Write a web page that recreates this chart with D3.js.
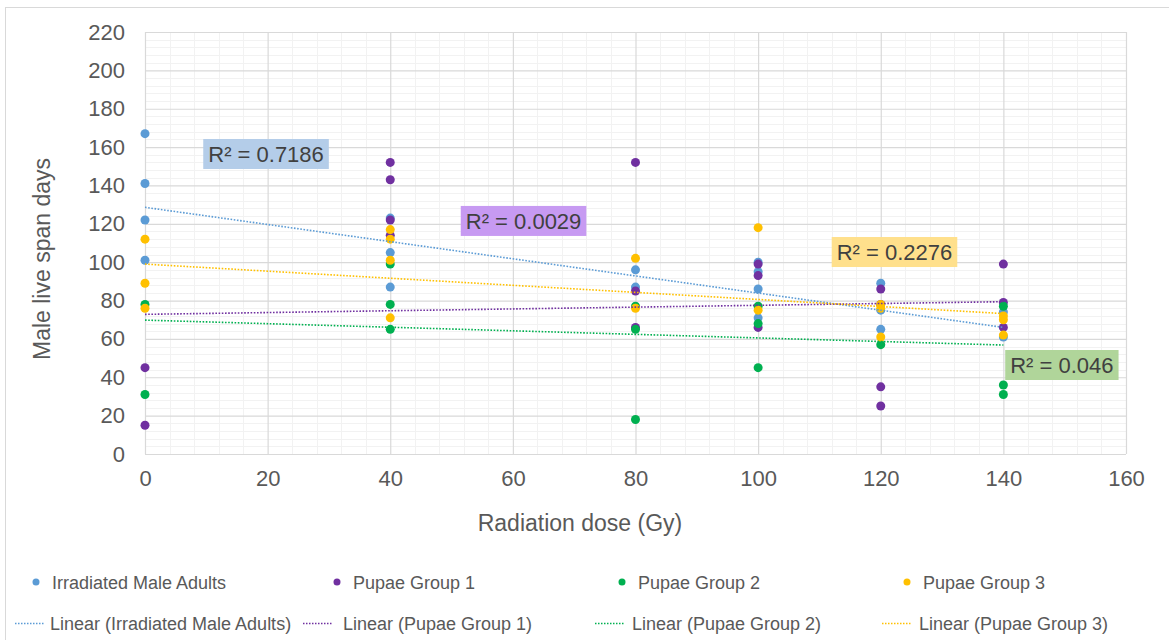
<!DOCTYPE html>
<html>
<head>
<meta charset="utf-8">
<script src="https://cdn.jsdelivr.net/npm/d3@7"></script>
<style>
  html, body { margin: 0; padding: 0; background: #fff; }
  svg { display: block; font-family: "Liberation Sans", Arial, sans-serif; }
</style>
</head>
<body>
<svg id="chart" width="1169" height="640"></svg>
<script>
// Radiation dose (Gy) and male life span (days) per group
const seriesNames = ["Irradiated Male Adults", "Pupae Group 1", "Pupae Group 2", "Pupae Group 3"];
const seriesColors = ["#5b9bd5", "#7030a0", "#00b050", "#ffc000"];

const adultsDose = [0, 0, 0, 0, 40, 40, 40, 80, 80, 100, 100, 100, 100, 120, 120, 120, 140, 140];
const adultsDays = [167, 141, 122, 101, 123, 105, 87, 96, 87, 100, 95, 86, 71, 89, 75, 65, 74, 61];

const pupae1Dose = [0, 0, 40, 40, 40, 40, 80, 80, 80, 100, 100, 100, 120, 120, 120, 120, 140, 140, 140];
const pupae1Days = [45, 15, 152, 143, 122, 114, 152, 85, 66, 99, 93, 66, 86, 78, 35, 25, 99, 79, 66];

const pupae2Dose = [0, 0, 40, 40, 40, 80, 80, 80, 100, 100, 100, 120, 140, 140, 140];
const pupae2Days = [78, 31, 99, 78, 65, 77, 65, 18, 77, 68, 45, 57, 77, 36, 31];

const pupae3Dose = [0, 0, 0, 40, 40, 40, 40, 80, 80, 100, 100, 120, 120, 120, 140, 140, 140];
const pupae3Days = [112, 89, 76, 117, 112, 101, 71, 102, 76, 118, 75, 78, 76, 61, 72, 70, 62];

// Linear trendlines: fitted value at dose 0 and at dose 140
const trendStart = [128.6, 72.8, 69.8, 99.0];
const trendEnd = [66.0, 79.4, 56.8, 73.2];
const trendDose = [0, 140];

// R² labels
const rSquaredText = ["R² = 0.7186", "R² = 0.0029", "R² = 0.046", "R² = 0.2276"];
const rSquaredFill = ["#b4cde9", "#c79af2", "#b0d59a", "#ffe08c"];
const rSquaredAt = [[9.5, 156.4], [51.5, 121.5], [140.3, 46.4], [112, 105.3]]; // dose, days of label box left-centre

const xTicks = [0, 20, 40, 60, 80, 100, 120, 140, 160];
const yTicks = [0, 20, 40, 60, 80, 100, 120, 140, 160, 180, 200, 220];

const series = [
  { dose: adultsDose, days: adultsDays },
  { dose: pupae1Dose, days: pupae1Days },
  { dose: pupae2Dose, days: pupae2Days },
  { dose: pupae3Dose, days: pupae3Days }
];

const svg = d3.select("#chart");
const W = 1169, H = 640;
const plot = { left: 145, right: 1126, top: 32, bottom: 454 };
const textColor = "#595959";

// Chart frame
svg.append("rect")
  .attr("x", 5.5).attr("y", 7.5)
  .attr("width", W + 10).attr("height", H + 10)
  .attr("fill", "#fff").attr("stroke", "#d9d9d9").attr("stroke-width", 1);

const x = d3.scaleLinear().domain([0, 160]).range([plot.left, plot.right]);
const y = d3.scaleLinear().domain([0, 220]).range([plot.bottom, plot.top]);

// Minor gridlines (every 4 units)
const g = svg.append("g");
g.selectAll("line.xminor")
  .data(d3.range(0, 161, 4).filter(v => v % 20 !== 0))
  .join("line")
  .attr("x1", d => Math.round(x(d)) + 0.5).attr("x2", d => Math.round(x(d)) + 0.5)
  .attr("y1", plot.top).attr("y2", plot.bottom)
  .attr("stroke", "#f2f2f2").attr("stroke-width", 1);
g.selectAll("line.yminor")
  .data(d3.range(0, 221, 4).filter(v => v % 20 !== 0))
  .join("line")
  .attr("x1", plot.left).attr("x2", plot.right)
  .attr("y1", d => Math.round(y(d)) + 0.5).attr("y2", d => Math.round(y(d)) + 0.5)
  .attr("stroke", "#f2f2f2").attr("stroke-width", 1);

// Major gridlines via axes
const xGrid = d3.axisBottom(x).tickValues(xTicks).tickSize(-(plot.bottom - plot.top)).tickFormat("");
const yGrid = d3.axisLeft(y).tickValues(yTicks).tickSize(-(plot.right - plot.left)).tickFormat("");
svg.append("g").attr("transform", `translate(0,${plot.bottom})`).call(xGrid)
  .call(s => s.select(".domain").remove())
  .call(s => s.selectAll("line").attr("stroke", "#d9d9d9").attr("stroke-width", 1.2));
svg.append("g").attr("transform", `translate(${plot.left},0)`).call(yGrid)
  .call(s => s.select(".domain").remove())
  .call(s => s.selectAll("line").attr("stroke", "#d9d9d9").attr("stroke-width", 1.2));

// Axis labels
const xAxis = d3.axisBottom(x).tickValues(xTicks).tickSize(0).tickPadding(16);
const yAxis = d3.axisLeft(y).tickValues(yTicks).tickSize(0).tickPadding(20);
svg.append("g").attr("transform", `translate(0,${plot.bottom})`).call(xAxis)
  .call(s => s.select(".domain").remove())
  .call(s => s.selectAll("text").attr("font-size", 22).attr("fill", textColor)
    .attr("font-family", "Liberation Sans, Arial, sans-serif"));
svg.append("g").attr("transform", `translate(${plot.left},0)`).call(yAxis)
  .call(s => s.select(".domain").remove())
  .call(s => s.selectAll("text").attr("font-size", 22).attr("fill", textColor)
    .attr("font-family", "Liberation Sans, Arial, sans-serif"));

// Axis titles
svg.append("text")
  .attr("x", 580).attr("y", 531)
  .attr("text-anchor", "middle").attr("font-size", 23).attr("fill", textColor)
  .text("Radiation dose (Gy)");
svg.append("text")
  .attr("transform", `translate(50,259) rotate(-90)`)
  .attr("text-anchor", "middle").attr("font-size", 23).attr("fill", textColor)
  .text("Male live span days");

// Data points
series.forEach((s, i) => {
  svg.append("g").selectAll("circle")
    .data(s.dose.map((d, k) => [d, s.days[k]]))
    .join("circle")
    .attr("cx", d => x(d[0])).attr("cy", d => y(d[1]))
    .attr("r", 4.5)
    .attr("fill", seriesColors[i]);
});

// Trendlines
const line = d3.line().x(d => x(d[0])).y(d => y(d[1]));
series.forEach((s, i) => {
  svg.append("path")
    .datum([[trendDose[0], trendStart[i]], [trendDose[1], trendEnd[i]]])
    .attr("d", line)
    .attr("fill", "none")
    .attr("stroke", seriesColors[i])
    .attr("stroke-width", 1.6)
    .attr("stroke-dasharray", "1.6,1.6");
});

// R² labels
rSquaredText.forEach((t, i) => {
  const gx = x(rSquaredAt[i][0]), gy = y(rSquaredAt[i][1]);
  const lg = svg.append("g").attr("transform", `translate(${gx},${gy})`);
  const txt = lg.append("text")
    .attr("x", 5).attr("y", 8)
    .attr("font-size", 22).attr("fill", "#404040")
    .text(t);
  const w = txt.node().getComputedTextLength();
  lg.insert("rect", "text")
    .attr("x", 0).attr("y", -15)
    .attr("width", w + 10).attr("height", 30)
    .attr("fill", rSquaredFill[i]);
});

// Legend
const legendMarkerX = [36, 337, 622, 907];
const legendLineX = [15, 303, 595, 882];
const legendTextX2 = [50, 343, 632, 919];
const legend = svg.append("g");
seriesNames.forEach((name, i) => {
  legend.append("circle")
    .attr("cx", legendMarkerX[i]).attr("cy", 582).attr("r", 3.5)
    .attr("fill", seriesColors[i]);
  legend.append("text")
    .attr("x", legendMarkerX[i] + 16).attr("y", 588.5)
    .attr("font-size", 18).attr("fill", textColor)
    .text(name);
  legend.append("line")
    .attr("x1", legendLineX[i]).attr("x2", legendLineX[i] + 30)
    .attr("y1", 623.5).attr("y2", 623.5)
    .attr("stroke", seriesColors[i]).attr("stroke-width", 1.6)
    .attr("stroke-dasharray", "1.5,1.5");
  legend.append("text")
    .attr("x", legendTextX2[i]).attr("y", 630)
    .attr("font-size", 18).attr("fill", textColor)
    .text(`Linear (${name})`);
});
</script>
</body>
</html>
